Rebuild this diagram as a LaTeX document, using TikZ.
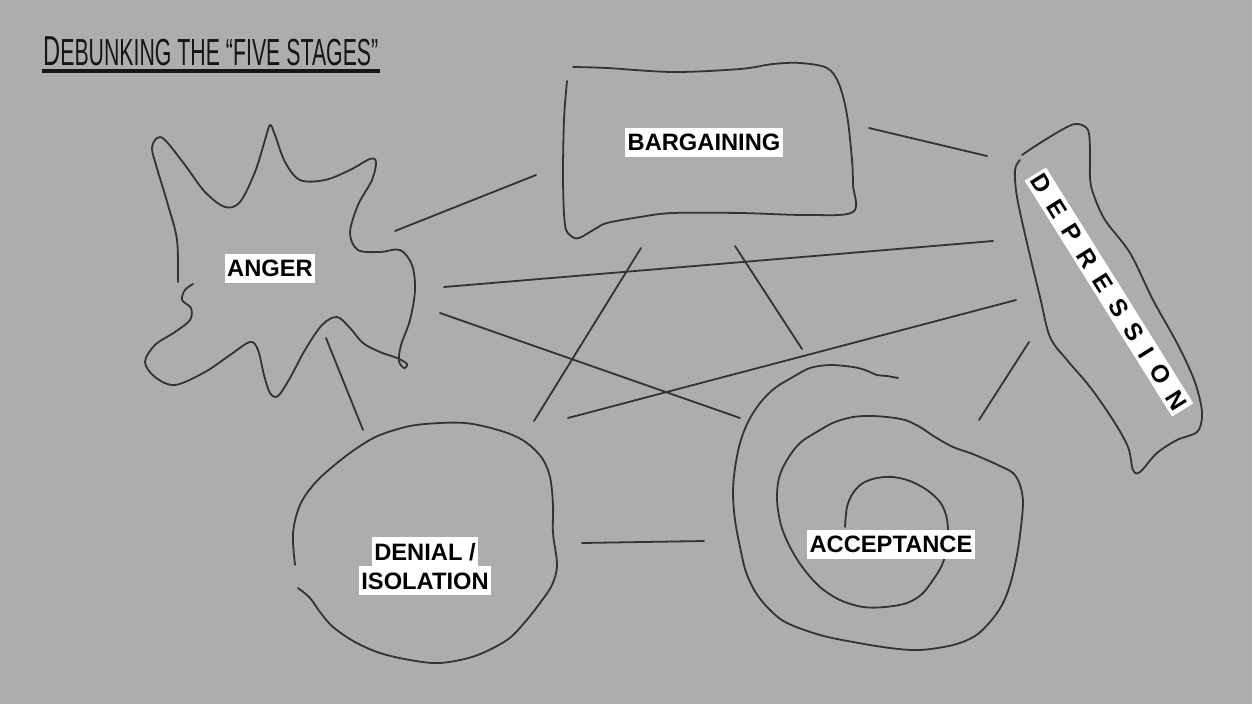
\documentclass[tikz,border=0pt]{standalone}
\usepackage{fontspec}
\setmainfont{Liberation Sans}
\usepackage{graphicx}
\definecolor{bg}{HTML}{ADADAD}
\definecolor{ink}{HTML}{333333}
\definecolor{titleink}{HTML}{161616}
\newcommand{\lbl}[1]{{\setlength{\fboxsep}{0pt}\colorbox{white}{\rule[-6pt]{0pt}{29pt}\hspace{2.5pt}#1\hspace{2.5pt}}}}
\newcommand{\thinlbl}[1]{{\setlength{\fboxsep}{0pt}\colorbox{white}{\rule[-4pt]{0pt}{25pt}\hspace{2.5pt}#1\hspace{2.5pt}}}}
\newcommand{\lsp}{\kern12.5pt}
\begin{document}
\begin{tikzpicture}[x=1pt,y=-1pt,
  stroke/.style={draw=ink, line width=1.8pt, line cap=round, line join=round},
  conn/.style={stroke},
  lab/.style={inner sep=0pt, font=\fontsize{23.7}{29}\selectfont\bfseries},
  blob/.style={stroke, smooth, tension=0.55}]
\fill[bg] (0,0) rectangle (1252,704);
\useasboundingbox (0,0) rectangle (1252,704);

% title
\node[anchor=base west, inner sep=0pt, text=titleink] (title) at (43,65)
  {\scalebox{0.565}[1]{{\fontsize{41.9}{42}\selectfont D}{\fontsize{37.7}{38}\selectfont EBUNKING THE “FIVE STAGES”}}};
\draw[titleink, line width=3.4pt] (title.base west) ++(-1,6) -- ++(338,0);

% shapes
\draw[blob] plot coordinates {(567,81) (564,120) (563,180) (565,225) (571,236) (579,238) (595,229) (607,223) (640,217) (673,213) (740,213) (807,215) (853,212) (853,185) (852,160) (847,115) (839,84) (827,68) (800,63) (773,64) (740,69) (673,72) (607,68) (573,67)};

\draw[blob] plot coordinates {(178,282) (177,240) (168,205) (156,165) (152,148) (157,138) (165,140) (185,165) (205,192) (225,207) (240,202) (255,172) (265,140) (270,125) (275,135) (285,162) (300,180) (325,180) (350,170) (370,159) (376,162) (372,180) (358,205) (350,233) (358,250) (380,252) (400,250) (412,265) (415,290) (410,320) (401,345) (399,361) (404,368) (407,364) (397,358) (380,352) (363,343) (350,328) (337,317) (322,325) (305,350) (290,378) (278,396) (270,393) (264,375) (258,350) (250,342) (230,355) (205,372) (175,385) (155,377) (145,362) (155,345) (175,332) (190,320) (191,308) (182,300) (185,290) (193,284)};

\draw[blob] plot coordinates {(295,565) (293,533) (300,505) (315,483) (337,463) (360,446) (380,435) (410,426) (440,423) (465,423) (487,427) (510,434) (527,443) (542,458) (550,477) (553,505) (553,533) (557,565) (552,585) (540,603) (525,622) (507,640) (475,656) (440,663) (410,660) (380,653) (355,642) (333,627) (320,612) (310,598) (298,588)};

\draw[blob] plot coordinates {(898,378) (887,376) (877,375) (865,370) (853,367) (830,365) (810,368) (793,377) (775,388) (760,403) (748,422) (740,443) (735,468) (733,493) (735,520) (740,547) (746,572) (756,593) (770,610) (787,623) (820,635) (853,642) (890,648) (920,650) (953,645) (975,636) (990,622) (1002,605) (1010,585) (1016,560) (1020,535) (1023,503) (1020,485) (1013,473) (1000,466) (987,460) (970,453) (953,447) (935,437) (920,427) (905,420) (887,417) (870,416) (853,417) (835,422) (820,430) (800,443) (787,460) (779,478) (777,500) (781,525) (790,547) (803,568) (820,587) (840,600) (863,607) (885,607) (907,603) (922,594) (933,580) (942,565) (947,547) (948,530) (946,515) (940,502) (927,490) (910,481) (893,477) (877,478) (863,483) (853,493) (847,507) (845,527)};

\draw[blob] plot coordinates {(1022,155) (1040,143) (1067,127) (1078,124) (1088,130) (1090,150) (1090,177) (1093,193) (1105,220) (1130,253) (1153,300) (1177,343) (1193,377) (1200,400) (1202,417) (1197,432) (1177,440) (1157,453) (1140,472) (1133,470) (1128,447) (1113,420) (1090,387) (1067,360) (1050,337) (1040,297) (1027,243) (1017,197) (1015,170) (1020,160)};

% connector end points
\coordinate (angBar) at (395,231); \coordinate (barAng) at (536,175);
\coordinate (barDep) at (869,128); \coordinate (depBar) at (987,156);
\coordinate (angDep) at (444,287); \coordinate (depAng) at (993,241);
\coordinate (angAcc) at (440,313); \coordinate (accAng) at (740,418);
\coordinate (barDen) at (641,248); \coordinate (denBar) at (534,421);
\coordinate (barAcc) at (735,246); \coordinate (accBar) at (802,349);
\coordinate (depDen) at (1016,300); \coordinate (denDep) at (568,418);
\coordinate (depAcc) at (1029,342); \coordinate (accDep) at (979,420);
\coordinate (angDen) at (326,338); \coordinate (denAng) at (363,430);
\coordinate (denAcc) at (582,543); \coordinate (accDen) at (704,541);

\draw[conn] (angBar) -- (barAng);
\draw[conn] (barDep) -- (depBar);
\draw[conn] (angDep) -- (depAng);
\draw[conn] (angAcc) -- (accAng);
\draw[conn] (barDen) -- (denBar);
\draw[conn] (barAcc) -- (accBar);
\draw[conn] (depDen) -- (denDep);
\draw[conn] (depAcc) -- (accDep);
\draw[conn] (angDen) -- (denAng);
\draw[conn] (denAcc) -- (accDen);

% labels
\node[lab] (bargaining) at (704,142) {\lbl{BARGAINING}};
\node[lab] (anger) at (270,268) {\lbl{ANGER}};
\node[lab, align=center] (denial) at (425,566) {\lbl{DENIAL /}\\\lbl{ISOLATION}};
\node[lab] (acceptance) at (891,544) {\lbl{ACCEPTANCE}};
\node[lab, font=\fontsize{24.5}{29}\selectfont\bfseries, rotate=-58] (depression) at (1109,292) {\thinlbl{D\lsp E\lsp P\lsp R\lsp E\lsp S\lsp S\lsp I\lsp O\lsp N}};
\end{tikzpicture}
\end{document}
